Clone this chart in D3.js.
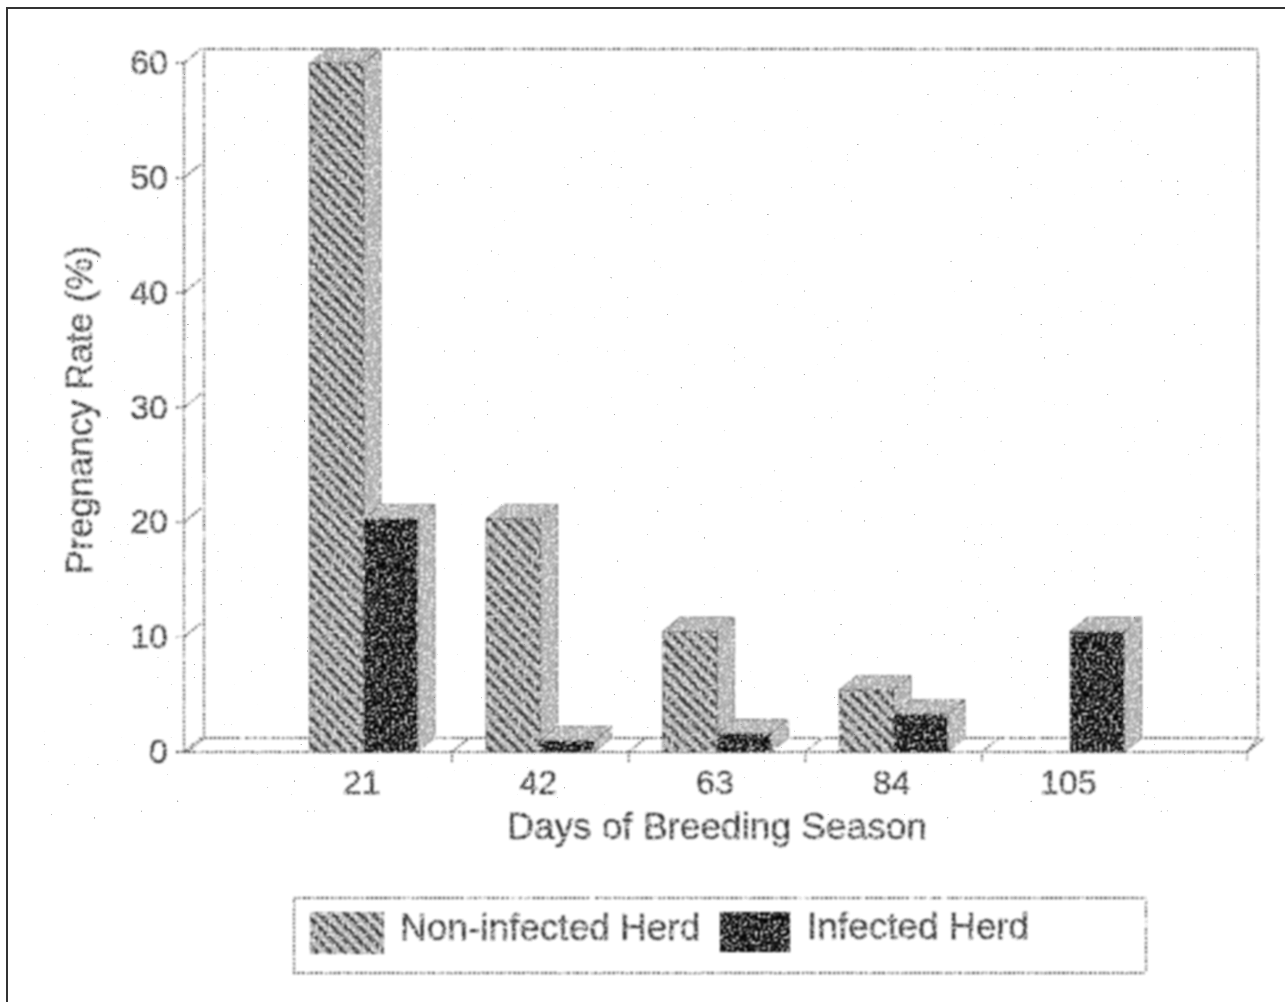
<!DOCTYPE html>
<html>
<head>
<meta charset="utf-8">
<script src="https://cdn.jsdelivr.net/npm/d3@7"></script>
<style>
    html, body { margin: 0; padding: 0; background: #fff; }
    svg { display: block; }
    text { font-family: "Liberation Sans", Arial, sans-serif; fill: #2a2a2a; stroke: #2a2a2a; stroke-width: 0.4px; }
</style>
</head>
<body>
<svg id="chart"></svg>
<script>
"use strict";

// Days of the breeding season
const days = [21, 42, 63, 84, 105];

// Pregnancy rate (%) per period
const nonInfected = [60, 20.3, 10.5, 5.4, 0];
const infected = [20.3, 1, 1.6, 3.3, 10.5];

const yTicks = [0, 10, 20, 30, 40, 50, 60];
const seriesNames = ["Non-infected Herd", "Infected Herd"];

const width = 1285, height = 1002;
const depthX = 17, depthY = -14;
const barWidth = 54;

const svg = d3.select("#chart").attr("width", width).attr("height", height);
const defs = svg.append("defs");

// Scanned look: holes punched in the ink, then a soft blur
const grain = defs.append("filter").attr("id", "grain")
    .attr("x", "-5%").attr("y", "-5%").attr("width", "110%").attr("height", "110%");
grain.append("feTurbulence").attr("type", "fractalNoise")
    .attr("baseFrequency", 0.38).attr("numOctaves", 2).attr("seed", 4).attr("result", "noise");
grain.append("feColorMatrix").attr("in", "noise").attr("type", "matrix")
    .attr("values", "0 0 0 0 0  0 0 0 0 0  0 0 0 0 0  7 0 0 0 -2.4").attr("result", "mask");
grain.append("feComposite").attr("in", "SourceGraphic").attr("in2", "mask")
    .attr("operator", "in").attr("result", "inked");
grain.append("feGaussianBlur").attr("in", "inked").attr("stdDeviation", 0.85);

// Sparse scanner dirt
const dirt = defs.append("filter").attr("id", "dirt")
    .attr("x", 0).attr("y", 0).attr("width", "100%").attr("height", "100%");
dirt.append("feTurbulence").attr("type", "fractalNoise")
    .attr("baseFrequency", 0.3).attr("numOctaves", 1).attr("seed", 11);
dirt.append("feColorMatrix").attr("type", "matrix")
    .attr("values", "0 0 0 0 0.4  0 0 0 0 0.4  0 0 0 0 0.4  22 0 0 0 -17.2");
dirt.append("feGaussianBlur").attr("stdDeviation", 0.5);

const hatch = defs.append("pattern").attr("id", "hatch")
    .attr("patternUnits", "userSpaceOnUse")
    .attr("width", 9.5).attr("height", 9.5)
    .attr("patternTransform", "rotate(45)");
hatch.append("rect").attr("width", 9.5).attr("height", 9.5).attr("fill", "#bcbcbc");
hatch.append("rect").attr("width", 9.5).attr("height", 5).attr("fill", "#333");

const speckle = defs.append("pattern").attr("id", "speckle")
    .attr("patternUnits", "userSpaceOnUse").attr("width", 4).attr("height", 4);
speckle.append("rect").attr("width", 4).attr("height", 4).attr("fill", "#c8c8c8");
speckle.append("circle").attr("cx", 1).attr("cy", 1).attr("r", 0.9).attr("fill", "#555");
speckle.append("circle").attr("cx", 3).attr("cy", 3).attr("r", 0.9).attr("fill", "#666");

// Page frame, only the top and left edges show on the scan
svg.append("path").attr("d", "M7,1002V8H1285").attr("fill", "none")
    .attr("stroke", "#333").attr("stroke-width", 2);

svg.append("rect").attr("x", 20).attr("y", 60).attr("width", 1240).attr("height", 760)
    .attr("fill", "#000").attr("filter", "url(#dirt)");

const x = d3.scaleLinear().domain([0, 126]).range([187, 1247]);
const y = d3.scaleLinear().domain([0, 60]).range([752, 63]);

const ink = svg.append("g").attr("filter", "url(#grain)");

// Back wall and floor
const wall = ink.append("g").attr("fill", "none").attr("stroke", "#333")
    .attr("stroke-width", 1.8).attr("stroke-dasharray", "3 1.5");
wall.append("path")
    .attr("d", `M${x(0)},${y(0)}L${x(0) + depthX},${y(0) + depthY}H${x(126) + depthX - 6}V${y(60) + depthY}H${x(0) + depthX}V${y(0) + depthY}`);
wall.append("path").attr("d", `M${x(0) - 3},${y(60)}V${y(0)}H${x(126)}L${x(126) + depthX - 6},${y(0) + depthY}`);
yTicks.forEach((t) => {
    wall.append("path").attr("d", `M${x(0) - 11},${y(t)}H${x(0) - 3}L${x(0) + depthX - 3},${y(t) + depthY}`);
});
// Small ticks sit between the labelled days
[31.5, 52.5, 73.5, 94.5, 126].forEach((d) => {
    wall.append("path").attr("d", `M${x(d)},${y(0) + 10}V${y(0)}L${x(d) + depthX},${y(0) + depthY}`);
});

function drawBar(day, value, fill, offset) {
    if (value <= 0) return;
    const x0 = x(day) + offset, x1 = x0 + barWidth, top = y(value), base = y(0);
    const g = ink.append("g").attr("stroke", "#333").attr("stroke-width", 1);
    g.append("path")
        .attr("d", `M${x1},${top}l${depthX},${depthY}V${base + depthY}L${x1},${base}Z`)
        .attr("fill", "url(#speckle)");
    g.append("path")
        .attr("d", `M${x0},${top}l${depthX},${depthY}H${x1 + depthX}L${x1},${top}Z`)
        .attr("fill", "url(#speckle)");
    g.append("rect")
        .attr("x", x0).attr("y", top)
        .attr("width", barWidth).attr("height", base - top)
        .attr("fill", fill);
}

days.forEach((day, i) => {
    drawBar(day, nonInfected[i], "url(#hatch)", -barWidth);
    drawBar(day, infected[i], "#000", 0);
});

// Axis text
ink.append("g").selectAll("text").data(yTicks).join("text")
    .attr("x", 168).attr("y", (d) => y(d) + 11)
    .attr("text-anchor", "end").attr("font-size", 34)
    .text((d) => d);

ink.append("g").selectAll("text").data(days).join("text")
    .attr("x", (d) => x(d) - 2).attr("y", 794)
    .attr("text-anchor", "middle").attr("font-size", 34)
    .text((d) => d);

ink.append("text")
    .attr("x", 717).attr("y", 839)
    .attr("text-anchor", "middle").attr("font-size", 37)
    .text("Days of Breeding Season");

ink.append("text")
    .attr("transform", "translate(92,410) rotate(-90)")
    .attr("text-anchor", "middle").attr("font-size", 36.5)
    .text("Pregnancy Rate (%)");

// Legend
ink.append("rect")
    .attr("x", 294).attr("y", 898).attr("width", 852).attr("height", 75)
    .attr("fill", "none").attr("stroke", "#333").attr("stroke-width", 1.8).attr("stroke-dasharray", "3 1.5");
ink.append("rect").attr("x", 310).attr("y", 912).attr("width", 74).attr("height", 42).attr("fill", "url(#hatch)");
ink.append("rect").attr("x", 720).attr("y", 912).attr("width", 70).attr("height", 40).attr("fill", "#000");
ink.append("text").attr("x", 400).attr("y", 940).attr("font-size", 37).text(seriesNames[0]);
ink.append("text").attr("x", 807).attr("y", 939).attr("font-size", 37).text(seriesNames[1]);
</script>
</body>
</html>
